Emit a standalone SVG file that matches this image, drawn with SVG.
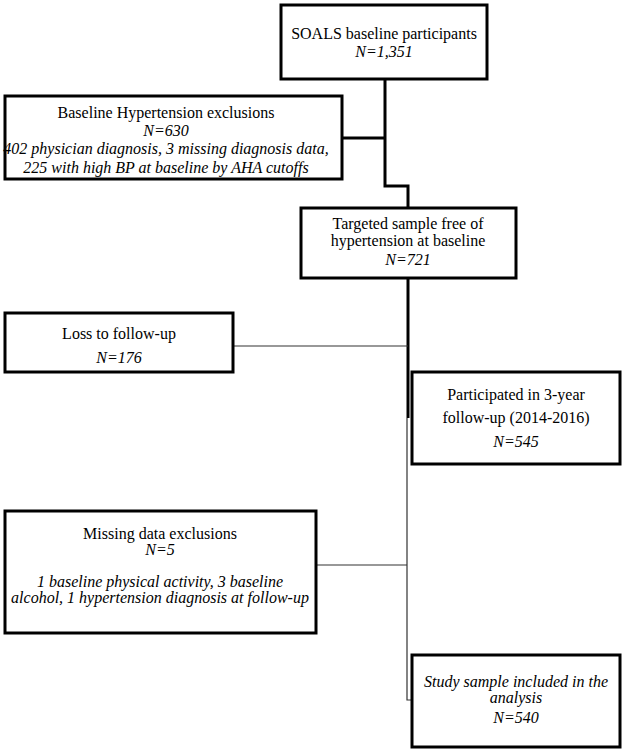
<svg xmlns="http://www.w3.org/2000/svg" width="625" height="752" viewBox="0 0 625 752">
<style>
.box{fill:#fff;stroke:#000;stroke-width:3}
.t{font-family:"Liberation Serif","Times New Roman",serif;font-size:16px;fill:#000;text-anchor:middle}
.i{font-style:italic}
.thick{fill:none;stroke:#000;stroke-width:3}
.thin{fill:none;stroke:#333;stroke-width:1.2}
</style>
<rect width="625" height="752" fill="#fff"/>
<g id="connectors">
<path class="thick" d="M385,79 V186 H408 V208"/>
<path class="thick" d="M342,138 H385"/>
<path class="thick" d="M408,278 V418"/>
<path class="thin" d="M233,346 H408"/>
<path class="thin" d="M407,418 V700 H412"/>
<path class="thin" d="M316,565 H407"/>
</g>
<g id="n1">
<rect class="box" x="281" y="5" width="206" height="74"/>
<text class="t" x="384" y="39">SOALS baseline participants</text>
<text class="t i" x="384" y="57">N=1,351</text>
</g>
<g id="n2">
<rect class="box" x="5" y="96" width="337" height="83"/>
<text class="t" x="166" y="118">Baseline Hypertension exclusions</text>
<text class="t i" x="166" y="136">N=630</text>
<text class="t i" x="166" y="154">402 physician diagnosis, 3 missing diagnosis data,</text>
<text class="t i" x="166" y="173">225 with high BP at baseline by AHA cutoffs</text>
</g>
<g id="n3">
<rect class="box" x="301" y="208" width="215" height="70"/>
<text class="t" x="408" y="229">Targeted sample free of</text>
<text class="t" x="408" y="246">hypertension at baseline</text>
<text class="t i" x="408" y="265">N=721</text>
</g>
<g id="n4">
<rect class="box" x="5" y="313" width="228" height="59"/>
<text class="t" x="119" y="339">Loss to follow-up</text>
<text class="t i" x="119" y="363">N=176</text>
</g>
<g id="n5">
<rect class="box" x="412" y="372" width="208" height="92"/>
<text class="t" x="516" y="400">Participated in 3-year</text>
<text class="t" x="516" y="423">follow-up (2014-2016)</text>
<text class="t i" x="516" y="447">N=545</text>
</g>
<g id="n6">
<rect class="box" x="5" y="511" width="311" height="122"/>
<text class="t" x="160" y="539">Missing data exclusions</text>
<text class="t i" x="160" y="555">N=5</text>
<text class="t i" x="160" y="587">1 baseline physical activity, 3 baseline</text>
<text class="t i" x="160" y="603">alcohol, 1 hypertension diagnosis at follow-up</text>
</g>
<g id="n7">
<rect class="box" x="412" y="655" width="208" height="92"/>
<text class="t i" x="516" y="687">Study sample included in the</text>
<text class="t i" x="516" y="703">analysis</text>
<text class="t i" x="516" y="723">N=540</text>
</g>
</svg>
